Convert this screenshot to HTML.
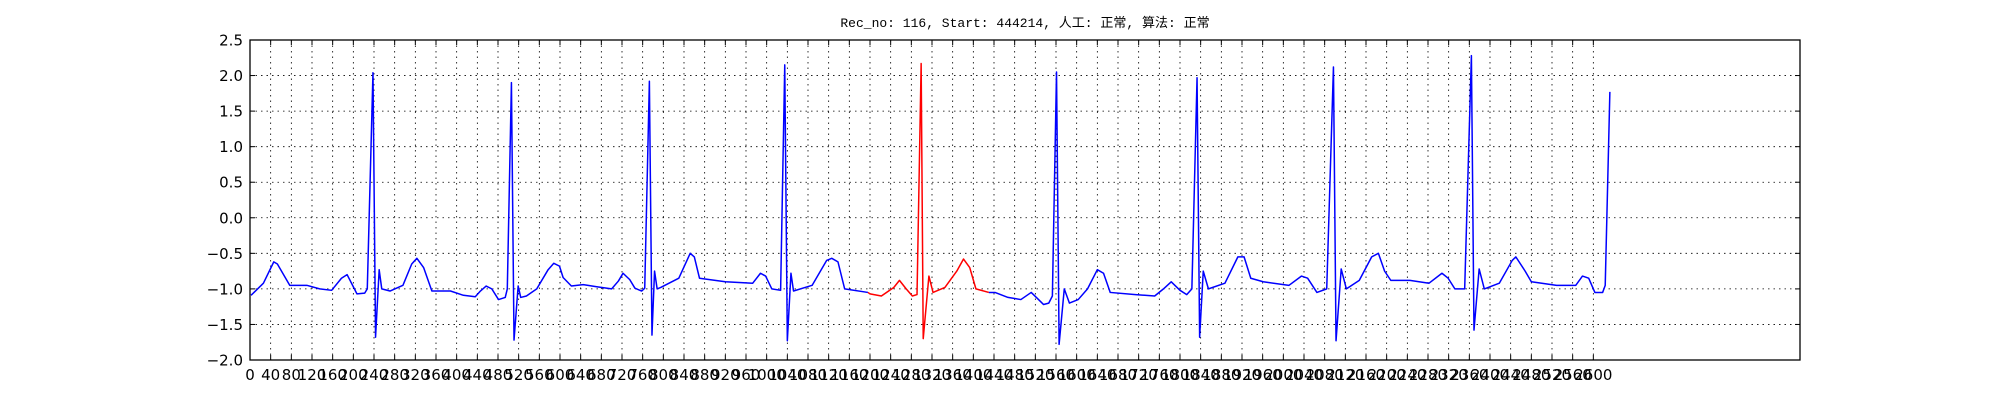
<!DOCTYPE html>
<html><head><meta charset="utf-8"><style>
html,body{margin:0;padding:0;background:#fff;}
svg{display:block;}
</style></head><body>
<svg id="chart" width="2000" height="400" xmlns="http://www.w3.org/2000/svg">
<text x="1025" y="27" text-anchor="middle" font-family="'Liberation Mono','Noto Sans CJK SC',monospace" font-size="13" fill="#000">Rec_no: 116, Start: 444214, 人工: 正常, 算法: 正常</text>
<g id="grid"></g>
<g id="series"></g>
<rect x="250" y="40" width="1550" height="320" fill="none" stroke="#000" stroke-width="1.3"/>
<g id="xticks"></g>
<g id="yticks"></g>
</svg>
<script>
const xTickValues = [];
for (let t = 0; t <= 2600; t += 40) xTickValues.push(t);
const yTickValues = [-2.0,-1.5,-1.0,-0.5,0.0,0.5,1.0,1.5,2.0,2.5];
const sampleIdx = [2,26,46,53,77,110,135,158,177,188,207,222,227,238,243,250,255,271,296,313,323,336,352,388,413,436,446,457,468,481,494,498,506,511,519,524,535,555,577,588,599,606,622,645,671,700,713,722,735,745,758,764,773,778,783,788,795,830,852,860,870,920,973,988,998,1010,1027,1035,1040,1047,1052,1088,1116,1126,1138,1151,1196,1200,1222,1246,1257,1270,1282,1291,1299,1303,1314,1322,1345,1368,1381,1393,1405,1430,1442,1467,1492,1512,1522,1536,1546,1553,1561,1566,1576,1586,1603,1621,1640,1652,1665,1714,1751,1768,1783,1800,1813,1823,1833,1838,1845,1855,1887,1912,1924,1937,1961,2011,2035,2047,2065,2084,2097,2102,2112,2122,2147,2171,2184,2196,2208,2245,2282,2307,2319,2332,2351,2364,2369,2379,2389,2418,2443,2450,2468,2480,2529,2566,2579,2591,2603,2618,2623,2632];
const values = [-1.09,-0.92,-0.62,-0.65,-0.95,-0.95,-1.0,-1.02,-0.85,-0.80,-1.07,-1.06,-1.0,2.04,-1.68,-0.73,-1.0,-1.03,-0.95,-0.65,-0.57,-0.70,-1.03,-1.03,-1.09,-1.11,-1.03,-0.96,-1.0,-1.15,-1.12,-1.0,1.9,-1.72,-0.96,-1.12,-1.1,-1.0,-0.73,-0.64,-0.68,-0.84,-0.96,-0.94,-0.97,-1.0,-0.89,-0.78,-0.87,-0.99,-1.03,-0.99,1.92,-1.65,-0.75,-1.0,-0.98,-0.85,-0.5,-0.55,-0.85,-0.9,-0.92,-0.78,-0.82,-1.0,-1.02,2.15,-1.73,-0.78,-1.03,-0.95,-0.6,-0.57,-0.62,-1.0,-1.05,-1.07,-1.1,-0.98,-0.88,-1.0,-1.1,-1.08,2.17,-1.7,-0.82,-1.05,-0.98,-0.75,-0.58,-0.7,-1.0,-1.05,-1.05,-1.12,-1.15,-1.05,-1.12,-1.22,-1.2,-1.1,2.05,-1.78,-1.0,-1.2,-1.15,-1.0,-0.73,-0.78,-1.05,-1.08,-1.1,-1.0,-0.9,-1.02,-1.08,-1.0,1.97,-1.68,-0.75,-1.0,-0.92,-0.55,-0.55,-0.85,-0.9,-0.95,-0.82,-0.85,-1.05,-1.0,2.12,-1.73,-0.72,-1.0,-0.88,-0.55,-0.5,-0.75,-0.88,-0.88,-0.92,-0.78,-0.85,-1.0,-1.0,2.28,-1.58,-0.72,-1.0,-0.92,-0.6,-0.55,-0.75,-0.9,-0.95,-0.95,-0.82,-0.85,-1.05,-1.05,-0.95,1.77];
const redStart = 1196;
const redEnd = 1430;

const X0=250, X1=1800, Y0=40, Y1=360, XMIN=0, XMAX=3000, YMIN=-2.0, YMAX=2.5;
const xs = v => X0 + (v-XMIN)/(XMAX-XMIN)*(X1-X0);
const ys = v => Y1 - (v-YMIN)/(YMAX-YMIN)*(Y1-Y0);
const NS='http://www.w3.org/2000/svg';
const grid=document.getElementById('grid'), xt=document.getElementById('xticks'), yt=document.getElementById('yticks'), ser=document.getElementById('series');
function mk(tag, attrs, parent){const e=document.createElementNS(NS,tag);for(const k in attrs)e.setAttribute(k,attrs[k]);parent.appendChild(e);return e;}

xTickValues.forEach(t=>{
  const x=xs(t);
  const g=mk('line',{x1:x,x2:x,y1:Y0,y2:Y1,stroke:'#000','stroke-width':0.8,'stroke-dasharray':'1.5,4'},grid);
  
  
  const tk=mk('line',{x1:x,x2:x,y1:Y1,y2:Y1-5,stroke:'#000','stroke-width':1},xt);
  
  
  const tk2=mk('line',{x1:x,x2:x,y1:Y0,y2:Y0+5,stroke:'#000','stroke-width':1},xt);
  
  
  const lb=mk('text',{x:x,y:Y1+20,'text-anchor':'middle','font-family':"'DejaVu Sans','Liberation Sans',sans-serif",'font-size':15,fill:'#000'},xt);
  lb.textContent=String(t);
  
  
});
yTickValues.forEach(t=>{
  const y=ys(t);
  const g=mk('line',{x1:X0,x2:X1,y1:y,y2:y,stroke:'#000','stroke-width':0.8,'stroke-dasharray':'1.5,4'},grid);
  
  
  const tk=mk('line',{x1:X0,x2:X0+5,y1:y,y2:y,stroke:'#000','stroke-width':1},yt);
  
  
  const tk2=mk('line',{x1:X1-5,x2:X1,y1:y,y2:y,stroke:'#000','stroke-width':1},yt);
  
  
  const lb=mk('text',{x:X0-7,y:y+5.5,'text-anchor':'end','font-family':"'DejaVu Sans','Liberation Sans',sans-serif",'font-size':15,fill:'#000'},yt);
  lb.textContent=(t<0?'\u2212':'')+Math.abs(t).toFixed(1);
  
  
});

function pts(filter){return sampleIdx.map((s,i)=>[s,values[i]]).filter(filter).map(p=>xs(p[0]).toFixed(2)+','+ys(p[1]).toFixed(2)).join(' ');}
const b1=mk('polyline',{points:pts(p=>p[0]<=redStart),fill:'none',stroke:'#0000ff','stroke-width':1.5,'stroke-linejoin':'round'},ser);


const r=mk('polyline',{points:pts(p=>p[0]>=redStart&&p[0]<=redEnd),fill:'none',stroke:'#ff0000','stroke-width':1.5,'stroke-linejoin':'round'},ser);


const b2=mk('polyline',{points:pts(p=>p[0]>=redEnd),fill:'none',stroke:'#0000ff','stroke-width':1.5,'stroke-linejoin':'round'},ser);


</script>
</body></html>
